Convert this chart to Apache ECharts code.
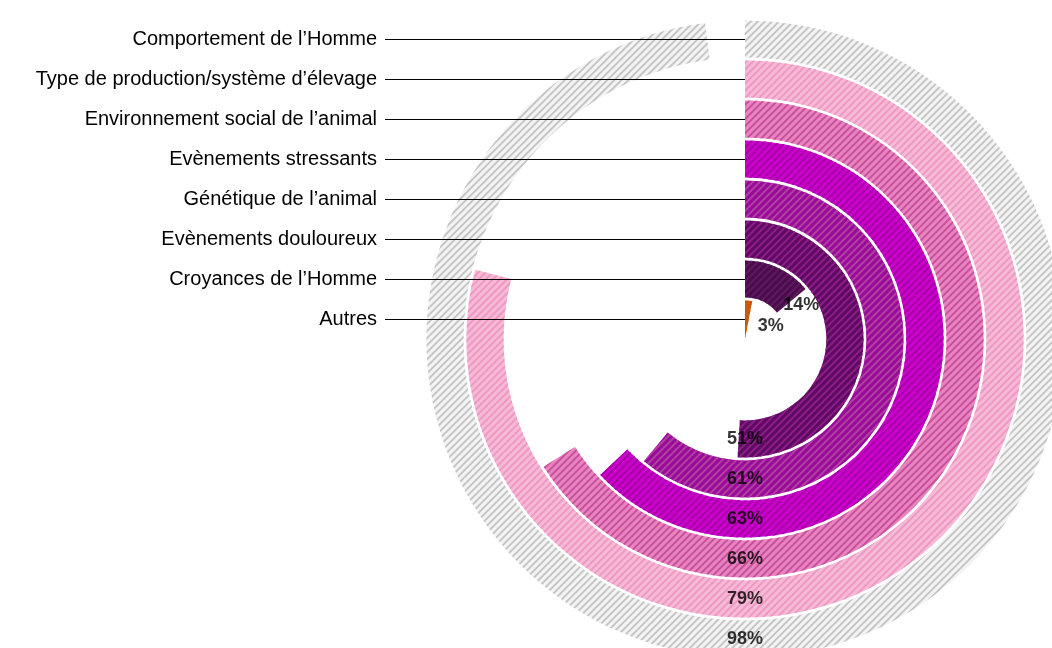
<!DOCTYPE html>
<html>
<head>
<meta charset="utf-8">
<script src="https://cdn.jsdelivr.net/npm/echarts@6/dist/echarts.min.js"></script>
<style>
    html,body{margin:0;padding:0;background:#fff;}
    #radial-panel{width:1052px;height:648px;}
</style>
</head>
<body>
<div id="radial-panel"></div>
<script>
// de l'intérieur vers l'extérieur
var categories = ['Autres','Croyances de l\u2019Homme','Evènements douloureux','Génétique de l\u2019animal',
    'Evènements stressants','Environnement social de l\u2019animal','Type de production/système d\u2019élevage','Comportement de l\u2019Homme'];
var values = [3, 14, 51, 61, 63, 66, 79, 98];
var fillColors = ['#c55a11','#4a0c4a','#5e0a5e','#9a0a9a','#cc00cc','#e884bf','#f6bad7','#f4f4f4'];
var stripeColors = ['#c55a11','#5e1a5e','#8c1c8c','#b0409f','#a600a6','#c9509c','#ee98c2','#c6c6c6'];

var dom = document.getElementById('radial-panel');
var chart = echarts.init(dom);

var barData = [];
for (var i = 0; i < values.length; i++) {
    barData.push({
        value: values[i],
        itemStyle: {
            color: fillColors[i],
            decal: {
                symbol: 'rect',
                symbolSize: 1,
                dashArrayX: [1, 0],
                dashArrayY: [2, 3],
                rotation: -Math.PI / 4,
                color: stripeColors[i]
            }
        }
    });
}

// étiquettes % : en bas pour les grandes barres, au bout pour les petites
var labelOffsets = [[22, 7], [10, 4]];
var labelData = [];
for (var j = 0; j < values.length; j++) {
    labelData.push({
        value: [categories[j], Math.min(values[j], 50)],
        label: { offset: labelOffsets[j] || [0, 0] }
    });
}

var option = {
    animation: false,
    polar: {
        center: [745, 339],
        radius: [0, 320]
    },
    angleAxis: {
        type: 'value',
        min: 0,
        max: 100,
        startAngle: 90,
        clockwise: true,
        show: false
    },
    radiusAxis: {
        type: 'category',
        data: categories,
        axisLine: { show: false },
        splitLine: { show: false },
        axisTick: {
            show: true,
            interval: 0,
            alignWithLabel: true,
            length: 360,
            lineStyle: { color: '#000', width: 1 }
        },
        axisLabel: {
            interval: 0,
            hideOverlap: false,
            margin: 368,
            color: '#000',
            fontSize: 20,
            fontFamily: 'Liberation Sans, Arial, sans-serif'
        },
        z: 10
    },
    series: [
        {
            type: 'bar',
            coordinateSystem: 'polar',
            barCategoryGap: '7%',
            data: barData
        },
        {
            type: 'scatter',
            coordinateSystem: 'polar',
            symbolSize: 0,
            data: labelData,
            z: 20,
            label: {
                show: true,
                position: 'inside',
                color: '#000',
                textBorderWidth: 0,
                fontSize: 18,
                fontWeight: 'bold',
                fontFamily: 'Liberation Sans, Arial, sans-serif',
                formatter: function (p) {
                    return values[p.dataIndex] + '%';
                }
            }
        }
    ]
};
chart.setOption(option);
</script>
</body>
</html>
